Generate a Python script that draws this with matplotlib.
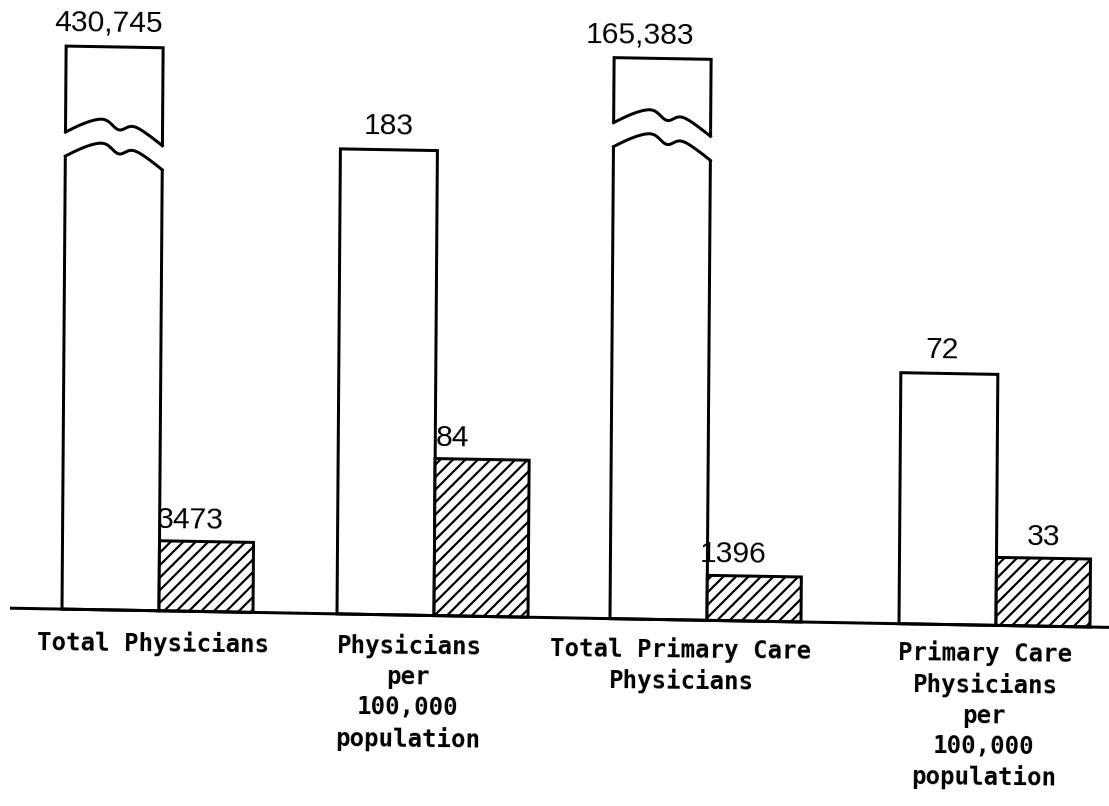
import numpy as np
import matplotlib.pyplot as plt
from matplotlib.transforms import Affine2D

# chart is a hand-drawn scan: bars are not to a common scale,
# so heights below are read off the picture (axis units = pixels)
categories = ["Total Physicians",
              "Physicians\nper\n100,000\npopulation",
              "Total Primary Care\nPhysicians",
              "Primary Care\nPhysicians\nper\n100,000\npopulation"]
white_labels = ["430,745", "183", "165,383", "72"]
hatch_labels = ["3473", "84", "1396", "33"]
white_heights = [563, 465, 561, 251]
hatch_heights = [70, 157, 45, 68]
broken = [True, False, True, False]

# layout
DPI = 150
W, H = 1109, 806
BASE_ROW = 608
split_x = [159, 434, 707, 996]
white_w, hatch_w = 97, 94
break_y = [470, None, 489, None]
white_dx = [-6, 0, -23, -7]
hatch_dx = [-16, -30, -21, 0]
label_x = [153, 409, 681, 985]
label_y = [-21, -19, -17, -16]


def px(v):
    return v * 72 / DPI


plt.rcParams['hatch.linewidth'] = px(2.2)

fig = plt.figure(figsize=(W / DPI, H / DPI), dpi=DPI)
ax = fig.add_axes([0, 0, 1, 1])
ax.set_xlim(0, W)
ax.set_ylim(BASE_ROW - H, BASE_ROW)
ax.axis('off')

# the scan is slightly skewed
tilt = Affine2D().skew_deg(0.42, -1.0) + ax.transData

white_x = [s - white_w / 2 for s in split_x]
hatch_x = [s + hatch_w / 2 for s in split_x]
lw = px(3)

wb = ax.bar(white_x, white_heights, width=white_w, color='white',
            edgecolor='black', linewidth=lw, zorder=2)
hb = ax.bar(hatch_x, hatch_heights, width=hatch_w, color='white',
            edgecolor='black', hatch='////', linewidth=lw, zorder=2)
for p in list(wb) + list(hb):
    p.set_transform(tilt)

# wavy break on the tall bars
t = np.linspace(0, 1, 80)
wave = 20 * np.sin(np.pi * t) - 10 * np.exp(-((t - 0.55) / 0.1) ** 2) - 12 * t - 5
for i in range(4):
    if not broken[i]:
        continue
    left = white_x[i] - white_w / 2
    xs = left + t * white_w
    up = break_y[i] + 12 + wave
    lo = break_y[i] - 12 + wave
    xe = np.concatenate([[left - 5], xs, [left + white_w + 5]])
    upe = np.concatenate([[up[0]], up, [up[-1]]])
    loe = np.concatenate([[lo[0]], lo, [lo[-1]]])
    ax.fill(np.concatenate([xe, xe[::-1]]), np.concatenate([upe, loe[::-1]]),
            color='white', lw=0, zorder=3, transform=tilt)
    ax.plot(xs, up, color='black', lw=lw, zorder=4, transform=tilt)
    ax.plot(xs, lo, color='black', lw=lw, zorder=4, transform=tilt)

# baseline
ax.plot([10, W], [0, 0], color='black', lw=px(3), zorder=5,
        solid_capstyle='butt', transform=tilt)

val_font = dict(family='Liberation Sans', fontsize=px(30))
for i in range(4):
    ax.text(white_x[i] + white_dx[i], white_heights[i] + 9, white_labels[i],
            transform=tilt, ha='center', va='bottom', rotation=-0.6,
            rotation_mode='anchor', **val_font)
    ax.text(hatch_x[i] + hatch_dx[i], hatch_heights[i] + 7, hatch_labels[i],
            transform=tilt, ha='center', va='bottom', rotation=-0.6,
            rotation_mode='anchor', **val_font)
    ax.text(label_x[i], label_y[i], categories[i], transform=tilt, ha='center',
            va='top', multialignment='center', linespacing=1.33,
            rotation=-0.6, rotation_mode='anchor',
            family='DejaVu Sans Mono', fontweight='bold', fontsize=px(24))

fig.savefig('out.png', dpi=DPI)
